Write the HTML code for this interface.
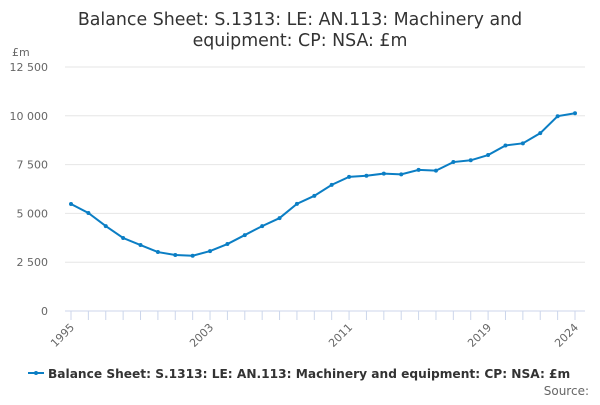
<!DOCTYPE html>
<html><head><meta charset="utf-8"><style>
body{margin:0;background:#fff;font-family:"Liberation Sans","DejaVu Sans",sans-serif}
svg text{font-family:"DejaVu Sans","Liberation Sans",sans-serif}
</style></head><body>
<svg id="c" width="600" height="400">
<text x="300" y="25" text-anchor="middle" font-size="17.4" fill="#333">Balance Sheet: S.1313: LE: AN.113: Machinery and</text>
<text x="300" y="46" text-anchor="middle" font-size="17.4" fill="#333">equipment: CP: NSA: £m</text>
<text x="12" y="56" font-size="11" fill="#666">£m</text>
<g id="grid"></g><g id="xax"></g><g id="series"></g>
<g>
<line x1="28" y1="373" x2="44" y2="373" stroke="#0b7ec4" stroke-width="2"/>
<circle cx="36" cy="373" r="2" fill="#0b7ec4"/>
<text x="48" y="378" font-size="12.2" font-weight="bold" fill="#333">Balance Sheet: S.1313: LE: AN.113: Machinery and equipment: CP: NSA: £m</text>
</g>
<text x="589" y="395" text-anchor="end" font-size="12" fill="#666">Source:</text>
</svg>
<script>
const years=[1995,1996,1997,1998,1999,2000,2001,2002,2003,2004,2005,2006,2007,2008,2009,2010,2011,2012,2013,2014,2015,2016,2017,2018,2019,2020,2021,2022,2023,2024];
const values=[5480,5020,4350,3740,3380,3020,2870,2830,3070,3430,3890,4350,4760,5490,5900,6460,6870,6930,7040,7000,7230,7190,7630,7720,7990,8480,8590,9110,9980,10130];
const yTicks=[0,2500,5000,7500,10000,12500];
const yTickLabels=["0","2 500","5 000","7 500","10 000","12 500"];
const xLabelYears=[1995,2003,2011,2019,2024];
const NS="http://www.w3.org/2000/svg";
const x=v=>71+(v-1995)*(575-71)/(2024-1995);
const y=v=>311-v*(311-67)/12500;
function mk(t,a,p){const e=document.createElementNS(NS,t);for(const k in a)e.setAttribute(k,a[k]);p.appendChild(e);return e;}
const grid=document.getElementById('grid');
yTicks.forEach((t,i)=>{
  const l=mk('line',{x1:65,x2:585,y1:y(t),y2:y(t),stroke:i==0?'#ccd6eb':'#e6e6e6','stroke-width':1},grid);
  
  
  const tx=mk('text',{x:48,y:y(t)+4,'text-anchor':'end','font-size':11,fill:'#666'},grid);
  tx.textContent=yTickLabels[i];
  
  
});
const xax=document.getElementById('xax');
years.forEach(yr=>{
  const l=mk('line',{x1:x(yr),x2:x(yr),y1:311,y2:320,stroke:'#ccd6eb'},xax);
  
  
});
xLabelYears.forEach(yr=>{
  const t=mk('text',{x:x(yr)+4,y:328,'text-anchor':'end','font-size':11,fill:'#666',transform:`rotate(-45 ${x(yr)+4} 328)`},xax);
  t.textContent=yr;
  
  
});
const s=document.getElementById('series');
const p=mk('polyline',{points:years.map((yr,i)=>x(yr)+','+y(values[i])).join(' '),fill:'none',stroke:'#0b7ec4','stroke-width':2},s);


years.forEach((yr,i)=>{
  const c=mk('circle',{cx:x(yr),cy:y(values[i]),r:2,fill:'#0b7ec4'},s);
  
  
});
</script>
</body></html>
